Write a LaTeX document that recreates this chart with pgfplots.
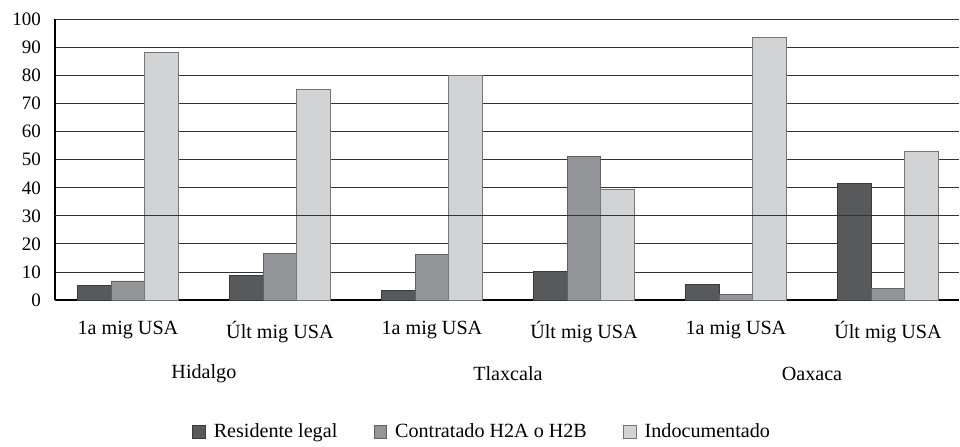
\documentclass[border=0pt]{standalone}
\usepackage{pgfplots}
\pgfplotsset{compat=1.18}
\usepackage{fontspec}
\setmainfont{Liberation Serif}

\definecolor{cdark}{HTML}{58595B}
\definecolor{cmid}{HTML}{939598}
\definecolor{clight}{HTML}{D1D3D4}
\definecolor{cedge}{HTML}{3A3A3C}

\begin{document}
\begin{tikzpicture}
  \begin{axis}[
    name=main,
    scale only axis,
    clip=false,
    width=548pt, height=170pt,
    xmin=-0.48, xmax=5.47,
    ymin=0, ymax=100,
    ytick={0,10,...,100},
    xtick={0,1,2,3,4,5},
    xticklabels={1a mig USA, Últ mig USA, 1a mig USA, Últ mig USA, 1a mig USA, Últ mig USA},
    axis x line*=bottom,
    axis y line*=left,
    axis line style={black, line width=0.7pt, -},
    major tick length=0pt,
    ymajorgrids=true,
    grid style={black!80, line width=0.6pt},
    /pgf/number format/assume math mode=true,
    tick label style={font=\fontsize{11.5}{13}\selectfont},
    yticklabel style={xshift=-5pt},
    xticklabel style={font=\fontsize{12.2}{14}\selectfont, yshift=-9pt},
    ybar,
    bar width=0.222,
    legend columns=3,
    legend style={draw=none, at={(0.473,-0.47)}, anchor=center,
      font=\fontsize{12.2}{14}\selectfont,
      /tikz/every odd column/.append style={column sep=3pt},
      /tikz/every even column/.append style={column sep=20pt}},
    legend image code/.code={\draw[#1] (0pt,-3.8pt) rectangle (7.5pt,3.8pt);},
  ]
  % Residente legal
  \addplot[fill=cdark, draw=cedge, line width=0.5pt, bar shift=-0.222]
    coordinates {(0,5.1) (1,8.7) (2,3.4) (3,10.3) (4,5.6) (5,41.7)};
  % Contratado H2A o H2B
  \addplot[fill=cmid, draw=cedge!80, line width=0.5pt, bar shift=0]
    coordinates {(0,6.8) (1,16.6) (2,16.2) (3,51.3) (4,2.1) (5,4.1)};
  % Indocumentado
  \addplot[fill=clight, draw=cedge!70, line width=0.5pt, bar shift=0.222]
    coordinates {(0,88.3) (1,75.2) (2,80) (3,39.6) (4,93.5) (5,53)};
  \legend{Residente legal, Contratado H2A o H2B, Indocumentado}
  % the 30 grid line is drawn over the bars in the reference
  \addplot[sharp plot, black!80, line width=0.6pt, forget plot]
    coordinates {(-0.48,30) (5.47,30)};
  % state names under each pair of categories
  \node[font=\fontsize{12.2}{14}\selectfont, yshift=-44.5pt] at (axis cs:0.5,0) {Hidalgo};
  \node[font=\fontsize{12.2}{14}\selectfont, yshift=-44.5pt] at (axis cs:2.5,0) {Tlaxcala};
  \node[font=\fontsize{12.2}{14}\selectfont, yshift=-44.5pt] at (axis cs:4.5,0) {Oaxaca};
  \end{axis}
  \path (main.south west) ++(-33.3pt,-88.5pt) rectangle ([yshift=11.8pt]main.north east);
\end{tikzpicture}
\end{document}
